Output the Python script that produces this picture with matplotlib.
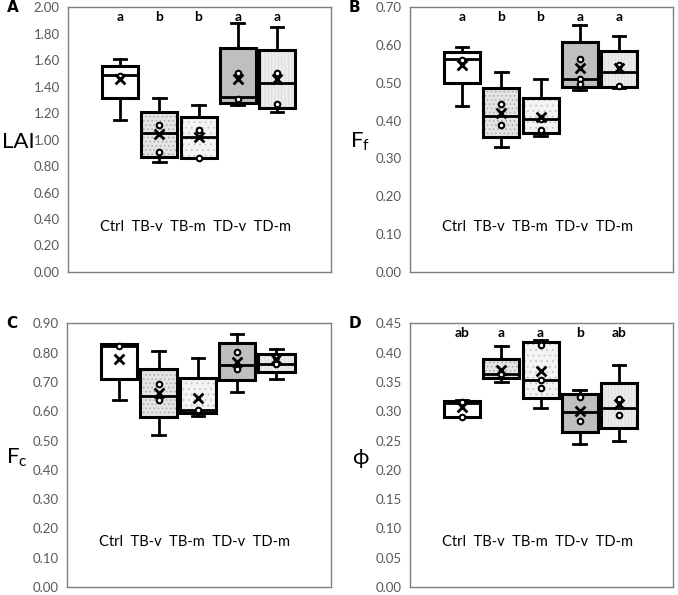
import matplotlib
matplotlib.use("Agg")
import matplotlib.pyplot as plt

plt.rcParams['font.family'] = ['Lato', 'DejaVu Sans']
plt.rcParams['hatch.linewidth'] = 0.6

groups = ["Ctrl", "TB-v", "TB-m", "TD-v", "TD-m"]

# whisker low, Q1, median, Q3, whisker high, mean
lai_stats = [
    [1.145, 1.315, 1.485, 1.556, 1.61, 1.455],
    [0.833, 0.868, 1.051, 1.208, 1.317, 1.043],
    [0.858, 0.858, 1.023, 1.170, 1.264, 1.020],
    [1.259, 1.279, 1.322, 1.690, 1.880, 1.457],
    [1.208, 1.239, 1.429, 1.673, 1.850, 1.455],
]
lai_points = [[1.48], [1.107, 0.904], [1.074, 0.863], [1.505, 1.31], [1.50, 1.267]]
lai_letters = ["a", "b", "b", "a", "a"]

ff_stats = [
    [0.439, 0.499, 0.564, 0.582, 0.595, 0.546],
    [0.330, 0.358, 0.413, 0.486, 0.528, 0.421],
    [0.359, 0.368, 0.404, 0.459, 0.510, 0.410],
    [0.482, 0.488, 0.510, 0.608, 0.653, 0.540],
    [0.486, 0.490, 0.529, 0.584, 0.624, 0.538],
]
ff_points = [[0.561], [0.445, 0.388], [0.404, 0.376], [0.564, 0.510, 0.497], [0.546, 0.492]]
ff_letters = ["a", "b", "b", "a", "a"]

fc_stats = [
    [0.637, 0.712, 0.823, 0.829, 0.829, 0.780],
    [0.519, 0.580, 0.652, 0.746, 0.806, 0.664],
    [0.585, 0.593, 0.605, 0.714, 0.781, 0.645],
    [0.665, 0.706, 0.758, 0.832, 0.863, 0.769],
    [0.711, 0.735, 0.763, 0.797, 0.814, 0.777],
]
fc_points = [[0.823], [0.693, 0.639], [0.605], [0.802, 0.745], [0.785, 0.762]]
fc_letters = ["", "", "", "", ""]

phi_stats = [
    [0.291, 0.291, 0.315, 0.318, 0.320, 0.307],
    [0.350, 0.357, 0.363, 0.389, 0.411, 0.371],
    [0.305, 0.323, 0.353, 0.419, 0.422, 0.368],
    [0.244, 0.264, 0.299, 0.330, 0.336, 0.300],
    [0.249, 0.271, 0.306, 0.348, 0.379, 0.313],
]
phi_points = [[0.316, 0.291], [0.363], [0.414, 0.353, 0.340], [0.324, 0.283], [0.321, 0.293]]
phi_letters = ["ab", "a", "a", "b", "ab"]

face_colors = ["white", "#e4e4e4", "#f4f4f4", "#bfbfbf", "#ececec"]
hatches = [None, "....", "...", None, "|||||"]
hatch_colors = ["white", "#a8a8a8", "#c4c4c4", "#bfbfbf", "#dadada"]

panels = [
    ("A", "LAI", lai_stats, lai_points, lai_letters, 2.0, 0.2, [0.1003, 0.5429, 0.388, 0.445]),
    ("B", r"$\mathregular{F_f}$", ff_stats, ff_points, ff_letters, 0.7, 0.1, [0.6047, 0.5429, 0.388, 0.445]),
    ("C", r"$\mathregular{F_c}$", fc_stats, fc_points, fc_letters, 0.9, 0.1, [0.0988, 0.0134, 0.389, 0.443]),
    ("D", "ϕ", phi_stats, phi_points, phi_letters, 0.45, 0.05, [0.6047, 0.0134, 0.388, 0.443]),
]

fig = plt.figure(figsize=(6.78, 5.95), dpi=100)

for letter, ylab, stats, points, sig, ymax, step, rect in panels:
    ax = fig.add_axes(rect)
    pos = list(range(len(groups)))

    # pattern fills of the boxes
    for i, s in enumerate(stats):
        ax.bar(pos[i], s[3] - s[1], bottom=s[1], width=0.92, color=face_colors[i],
               hatch=hatches[i], edgecolor=hatch_colors[i], linewidth=0, zorder=1)

    bxp_stats = []
    for s in stats:
        bxp_stats.append({"whislo": s[0], "q1": s[1], "med": s[2], "q3": s[3],
                          "whishi": s[4], "mean": s[5], "fliers": []})
    ax.bxp(bxp_stats, positions=pos, widths=0.92, capwidths=0.32, patch_artist=True,
           showmeans=False, manage_ticks=False,
           boxprops=dict(facecolor="none", edgecolor="black", linewidth=2.2),
           medianprops=dict(color="black", linewidth=2),
           whiskerprops=dict(color="black", linewidth=2),
           capprops=dict(color="black", linewidth=2), zorder=2)

    for i, pts in enumerate(points):
        ax.scatter([pos[i]] * len(pts), pts, s=16, facecolor="white",
                   edgecolor="black", linewidth=1.5, zorder=4)
    ax.scatter(pos, [s[5] for s in stats], marker="x", s=50, color="black",
               linewidth=2, zorder=5)

    for i, t in enumerate(sig):
        ax.text(pos[i], 0.962, t, transform=ax.get_xaxis_transform(),
                ha="center", va="center", fontsize=10, fontweight="bold")

    ax.text(0.485, 0.17, "Ctrl  TB-v  TB-m  TD-v  TD-m", transform=ax.transAxes,
            ha="center", va="center", fontsize=10.5)

    ax.set_xlim(-1.33, 5.38)
    ax.set_ylim(0, ymax)
    n = int(round(ymax / step))
    ticks = [k * step for k in range(n + 1)]
    ax.set_yticks(ticks)
    ax.set_yticklabels([f"{t:.2f}" for t in ticks])
    ax.set_xticks([])
    ax.tick_params(axis="y", length=0, pad=6, labelsize=9.5, labelcolor="#595959")
    for sp in ax.spines.values():
        sp.set_color("#7f7f7f")
        sp.set_linewidth(1)

    ax.set_ylabel(ylab, rotation=0, fontsize=16, va="center", ha="center")
    ax.yaxis.set_label_coords(-0.19, 0.49)

    ax.text(-0.21, 1.0, letter, transform=ax.transAxes, fontsize=11,
            fontweight="bold", family="DejaVu Sans", ha="center", va="center")

fig.savefig("out.png", dpi=100)
